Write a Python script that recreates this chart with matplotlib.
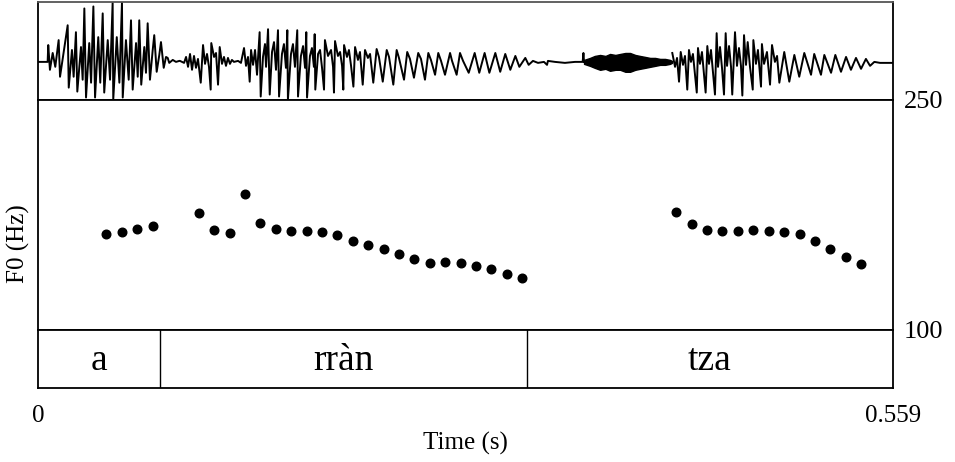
import matplotlib.pyplot as plt

plt.rcParams['font.family'] = ['Liberation Serif', 'DejaVu Serif']

# waveform vertices: (time in ms, amplitude in picture units)
wave_a = [
    (0, 0), (6.3, 0), (6.7, 17), (7.8, -8), (9.6, 9), (11.3, -5), (13.5, 22), (14.4, -15),
    (16.5, 7), (19.4, 37), (20.1, -26), (22.2, 12), (23.3, -15), (24.8, 30), (25.7, -30),
    (28.1, 15), (29.2, -18), (30.3, 54), (31.4, -36), (33.5, 19), (34.7, -21), (36.2, 56),
    (37.3, -36), (39.4, 25), (40.7, -21), (42.3, 49), (43.3, -31), (45.6, 22), (47.1, -18),
    (48.8, 60), (49.2, -38), (51.5, 25), (53.2, -21), (54.9, 60), (55.4, -36), (57.5, 22),
    (59.3, -18), (60.8, 42), (61.9, -28), (64.1, 19), (65.2, -15), (66.2, 42), (67.5, -23),
    (69.5, 15), (70.6, -11), (71.7, 39), (73.2, -18), (75.0, 12), (76.0, 27), (77.6, -10),
    (79.3, 7), (80.4, 20), (82.2, -6), (83.7, 5), (84.8, 4), (85.8, -1), (88.1, 2),
    (90.2, 0), (92.4, 1),
]
wave_rran = [
    (92.8, 1), (95.5, -1), (96.8, 5), (98.1, -5), (99.4, 8), (100.7, -8), (102.0, 6),
    (103.3, -6), (104.6, 3), (106.4, -21), (107.9, 17), (109.2, -2), (110.5, 8), (111.8, -5),
    (112.9, -28), (113.3, 19), (115.1, 5), (116.4, 9), (117.7, -23), (118.8, 15), (120.3, -2),
    (121.6, 5), (122.9, -4), (124.2, 4), (125.5, -2), (126.8, 2), (128.1, 0), (130.8, 1),
    (132.7, -1), (134.7, 14), (136.0, -4), (137.3, 5), (138.4, -20), (139.3, 12), (140.6, -3),
    (141.9, 12), (143.2, -13), (144.9, 30), (145.6, -35), (147.1, 5), (148.4, 18), (149.1, -5),
    (150.4, 33), (151.5, -33), (153.0, 10), (154.3, 20), (155.6, -8), (156.9, 32), (157.6, -35),
    (159.5, 8), (160.8, 18), (162.1, -6), (163.0, 32), (163.4, -38), (165.4, 8), (166.7, 18),
    (168.0, -5), (169.5, 32), (170.0, -35), (171.9, 6), (173.3, 16), (174.6, -6), (175.4, 30),
    (175.9, -36), (177.8, 6), (179.1, 14), (180.4, -5), (180.9, 28), (181.3, -28), (183.1, 8),
    (184.4, 12), (185.7, -6), (187.0, -28), (187.6, 22), (189.6, 6), (191.6, 12), (192.9, -5),
    (193.5, -31), (194.2, 21), (196.1, 6), (197.5, 10), (198.8, -4), (199.6, -28), (200.1, 17),
    (202.0, 5), (203.3, 12), (204.6, -3), (206.2, -25), (207.3, 15), (209.2, 2), (210.5, 10),
    (212.3, -23), (213.8, 12), (215.7, 4), (217.1, 8), (219.2, -21), (221.4, 13), (222.9, 5),
    (225.4, -20), (228.0, 12), (229.5, 5), (232.3, -23), (234.5, 12), (236.0, 4), (239.3, -18),
    (241.4, 10), (243.2, 3), (245.8, -16), (248.6, 9), (250.4, 3), (253.0, -18), (255.2, 9),
    (256.9, 2), (259.6, -13), (261.7, 9), (263.5, 1), (266.1, -13), (269.4, 9), (270.7, 1),
    (273.7, -13), (275.9, 9), (277.9, 1), (281.6, -11), (285.5, 9), (288.5, -11), (292.0, 9),
    (295.1, -11), (299.0, 9), (302.2, -10), (305.5, 8), (308.8, -8), (312.1, 6), (314.7, -5),
    (318.6, 4), (320.8, -3), (323.6, 1), (326.9, -1), (330.8, 0), (332.8, -3), (333.4, 1),
    (338.0, 0), (344.5, -1), (351.1, 0), (356.1, 0), (356.6, 9), (357.0, 0),
]
noise_t = [357.0, 360.9, 364.0, 367.5, 371.0, 374.0, 377.5, 380.6, 384.0, 387.1, 390.5,
           393.6, 397.0, 400.2, 403.5, 406.7, 410.0, 413.2, 414.5]
noise_hi = [2, 4, 6, 7, 6, 8, 7, 8, 9, 9, 7, 6, 5, 4, 4, 3, 3, 2, 1]
noise_lo = [-2, -4, -6, -8, -7, -9, -8, -8, -10, -10, -8, -7, -6, -5, -4, -3, -3, -2, -1]
wave_tza = [
    (414.7, 9), (416.5, -5), (417.8, 4), (419.1, -20), (420.2, 10), (421.7, -3), (423.0, 6),
    (424.5, -28), (425.6, 12), (426.9, 0), (428.2, 8), (430.7, -31), (431.5, 14), (432.8, -2),
    (434.1, 10), (436.5, -31), (437.6, 16), (438.7, -2), (440.0, 12), (442.6, -33), (443.7, 29),
    (444.6, -5), (445.9, 15), (447.2, -6), (448.5, -33), (449.6, 29), (450.5, -4), (451.8, 16),
    (453.1, -5), (453.9, -33), (455.7, 30), (457.0, -4), (458.3, 14), (459.6, -4), (460.5, -34),
    (461.6, 27), (462.9, -3), (464.0, 20), (465.5, -5), (467.3, -28), (467.7, 22), (469.4, -2),
    (470.7, 12), (472.7, -25), (473.3, 18), (474.7, -2), (476.6, 10), (478.6, -23), (479.9, 17),
    (481.8, 0), (483.2, 6), (484.7, -21), (487.9, 10), (489.0, 0), (491.2, -20), (494.5, 7),
    (497.7, -15), (501.0, 9), (505.4, -13), (507.5, 8), (511.9, -13), (514.1, 7), (518.5, -11),
    (521.3, 7), (525.0, -10), (528.3, 5), (531.5, -8), (534.8, 4), (538.1, -7), (541.3, 3),
    (544.0, -4), (546.8, 0), (550.5, -1), (554.4, -1), (559.0, -1),
]

# pitch points (s, Hz)
f0_t1 = [0.0447, 0.0549, 0.0649, 0.0752, 0.1053, 0.1153, 0.1253, 0.1355, 0.1453, 0.1556,
         0.1656, 0.1757, 0.1857, 0.1957, 0.2058, 0.2160, 0.2260, 0.2360, 0.2460, 0.2563,
         0.2663, 0.2764, 0.2864, 0.2964, 0.3064, 0.3166]
f0_hz1 = [162.4, 163.9, 166.1, 167.6, 176.3, 165.0, 163.3, 188.5, 169.6, 165.9,
          164.8, 164.6, 163.7, 161.8, 157.8, 155.2, 153.0, 149.8, 146.3, 143.5,
          144.2, 143.5, 141.7, 139.6, 136.5, 133.7]
f0_t2 = [0.4173, 0.4274, 0.4374, 0.4474, 0.4575, 0.4677, 0.4777, 0.4877, 0.4980, 0.5078,
         0.5180, 0.5281, 0.5381]
f0_hz2 = [177.0, 168.9, 165.4, 164.4, 164.4, 165.2, 164.6, 163.9, 162.4, 158.0,
          153.0, 147.4, 142.8]

# text grid
boundaries = [0.0798, 0.3197]
intervals = [(0.0, 0.0798, 'a'), (0.0798, 0.3197, 'rràn'), (0.3197, 0.559, 'tza')]
t_max = 0.559
f0_range = (100, 250)

fig = plt.figure(figsize=(9.55, 4.62), dpi=100)
left, width = 38 / 955, 855 / 955
ax_w = fig.add_axes([left, 1 - 100 / 462, width, 98 / 462])
ax_p = fig.add_axes([left, 1 - 330 / 462, width, 230 / 462])
ax_t = fig.add_axes([left, 1 - 388 / 462, width, 58 / 462])

for ax in (ax_w, ax_p, ax_t):
    ax.set_xlim(0, t_max)
    for sp in ax.spines.values():
        sp.set_linewidth(1.3)
    ax.tick_params(length=0)
    ax.set_xticks([])
    ax.set_yticks([])

# waveform
seg1 = wave_a + wave_rran
ax_w.plot([p[0] / 1000 for p in seg1], [p[1] for p in seg1], color='black', lw=1.4)
ax_w.fill_between([t / 1000 for t in noise_t], noise_lo, noise_hi, color='black', lw=1)
ax_w.plot([p[0] / 1000 for p in wave_tza], [p[1] for p in wave_tza], color='black', lw=1.4)
ax_w.set_ylim(-38.5, 60.5)
ax_w.spines['top'].set_color('#555555')

# pitch
ax_p.plot(f0_t1, f0_hz1, 'o', color='black', ms=6.2)
ax_p.plot(f0_t2, f0_hz2, 'o', color='black', ms=6.2)
ax_p.set_ylim(*f0_range)
ax_p.yaxis.tick_right()
ax_p.set_yticks(list(f0_range))
ax_p.set_yticklabels([str(v) for v in f0_range], fontsize=19)
ax_p.tick_params(axis='y', length=0, pad=8)

# text tier
ax_t.set_ylim(0, 1)
for b in boundaries:
    ax_t.axvline(b, color='black', lw=1)
for start, end, lab in intervals:
    ax_t.text((start + end) / 2, 0.47, lab, ha='center', va='center', fontsize=27)
ax_t.set_xticks([0, t_max])
ax_t.set_xticklabels(['0', '0.559'], fontsize=18)
ax_t.tick_params(axis='x', length=0, pad=12)
ax_t.set_xlabel('Time (s)', fontsize=18, labelpad=4)

fig.text(18 / 955, 1 - 244 / 462, 'F0 (Hz)', rotation=90, ha='center', va='center', fontsize=18)

fig.savefig('out.png', dpi=100)
